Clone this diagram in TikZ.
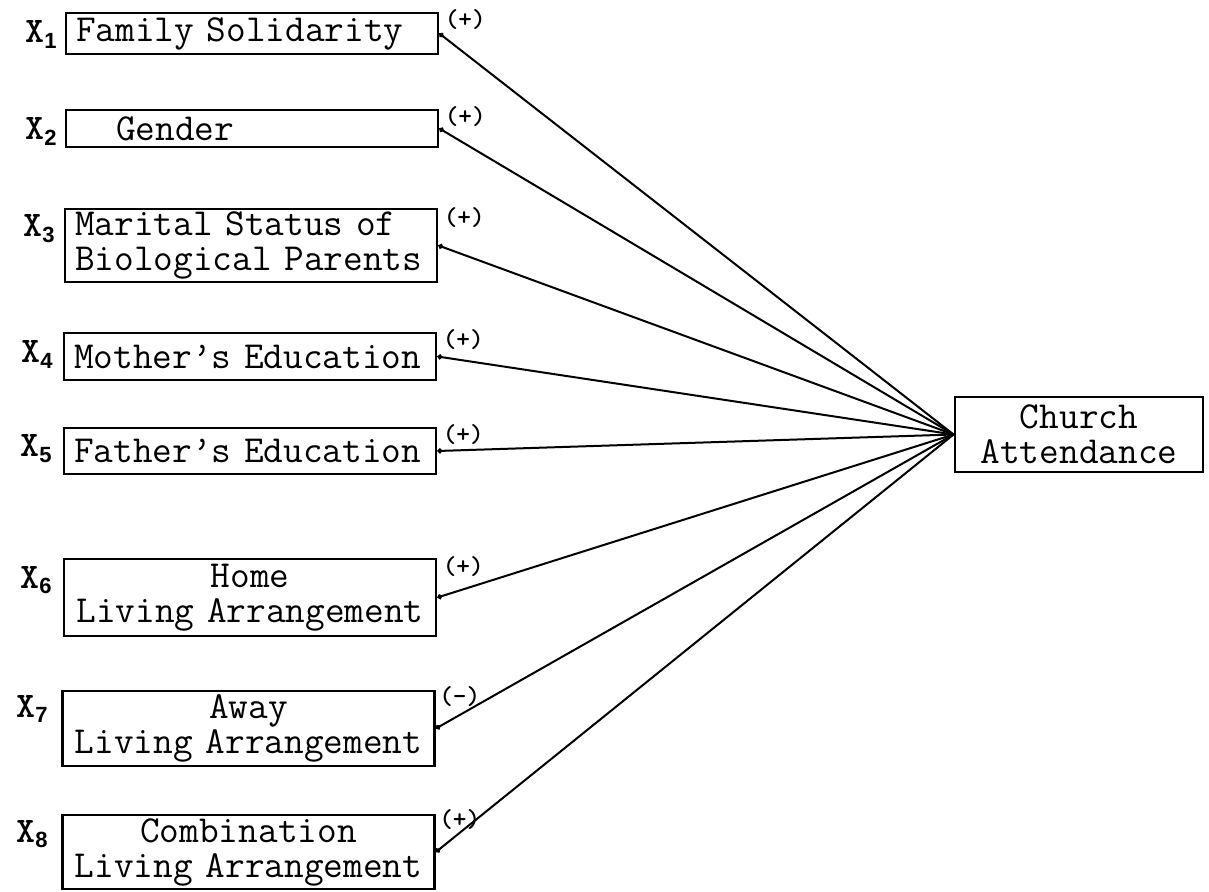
\documentclass[tikz,border=0pt]{standalone}
\usepackage{fontspec}
\setsansfont{Liberation Sans}
\usetikzlibrary{arrows.meta}
\begin{document}
\begin{tikzpicture}[x=0.5pt,y=-0.5pt,
  box/.style={draw, line width=1.4pt, font=\ttfamily\fontsize{19.1}{17.5}\selectfont\addfontfeature{FakeBold=0.4},
    inner xsep=5pt, inner ysep=0pt, text width=176pt, align=left},
  cbox/.style={box, align=center},
  chbox/.style={box, align=center, text width=114pt},
  conn/.style={line width=1pt, {Circle[length=2.5pt]}-},
  sign/.style={font=\ttfamily\bfseries\fontsize{13}{13}\selectfont, inner sep=0pt, anchor=west},
  xlab/.style={font=\ttfamily\bfseries\fontsize{18}{18}\selectfont, inner sep=0pt, anchor=base east}
]
\useasboundingbox (0,0) rectangle (1209,892);
\newcommand{\xsub}[1]{X\raisebox{-0.35ex}{\sffamily\bfseries\fontsize{11}{11}\selectfont #1}}

\node[box, minimum height=20.5pt] (b1) at (252,33.5) {Family Solidarity};
\node[box, minimum height=18.5pt] (b2) at (252,128.5) {\hspace*{20pt}Gender};
\node[box, minimum height=36.5pt] (b3) at (251,245.5) {Marital Status of\\Biological Parents};
\node[box, minimum height=23.5pt] (b4) at (250,356.5) {Mother’s Education};
\node[box, minimum height=23pt] (b5) at (250,451) {Father’s Education};
\node[cbox, minimum height=38.5pt] (b6) at (250,597.5) {Home\\Living Arrangement};
\node[cbox, minimum height=37.5pt] (b7) at (248.5,728.5) {Away\\Living Arrangement};
\node[cbox, minimum height=37pt] (b8) at (248.5,852) {Combination\\Living Arrangement};
\node[chbox, minimum height=37.5pt] (ca) at (1079,434.5) {Church\\Attendance};

\node[xlab] (x1) at (57,43) {\xsub{1}};
\node[xlab] (x2) at (57,140) {\xsub{2}};
\node[xlab] (x3) at (55,237) {\xsub{3}};
\node[xlab] (x4) at (53,363) {\xsub{4}};
\node[xlab] (x5) at (52,457) {\xsub{5}};
\node[xlab] (x6) at (52,588) {\xsub{6}};
\node[xlab] (x7) at (48,717) {\xsub{7}};
\node[xlab] (x8) at (48,842) {\xsub{8}};

\node[sign] (s1) at ([shift={(5,8)}]b1.north east) {(+)};
\node[sign] (s2) at ([shift={(5,8)}]b2.north east) {(+)};
\node[sign] (s3) at ([shift={(5,10)}]b3.north east) {(+)};
\node[sign] (s4) at ([shift={(5,8)}]b4.north east) {(+)};
\node[sign] (s5) at ([shift={(5,8)}]b5.north east) {(+)};
\node[sign] (s6) at ([shift={(5,9)}]b6.north east) {(+)};
\node[sign] (s7) at ([shift={(3,7)}]b7.north east) {(-)};
\node[sign] (s8) at ([shift={(3,6)}]b8.north east) {(+)};

\foreach \b in {b1,b2,b3,b4,b5,b6,b7,b8}
  \draw[conn] (\b.east) -- (ca.west);
\end{tikzpicture}
\end{document}
